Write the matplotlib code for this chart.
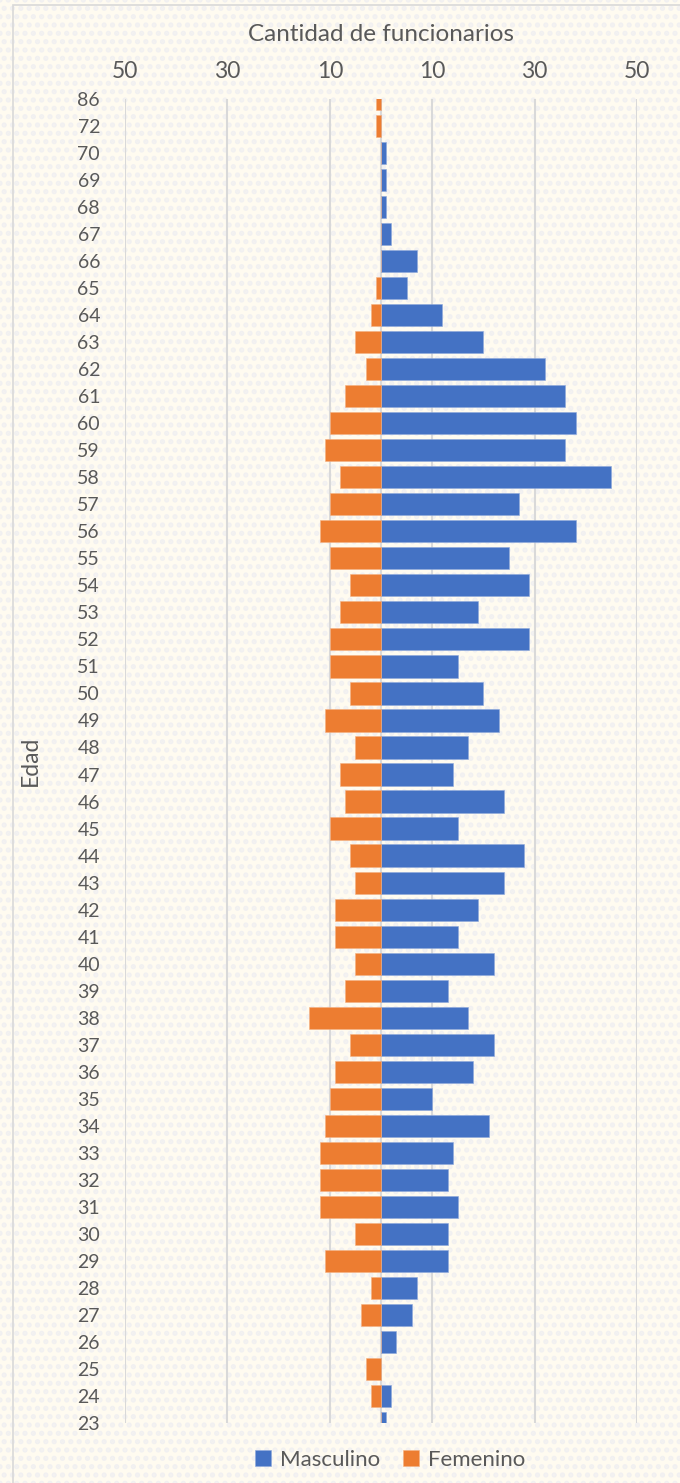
import numpy as np
import matplotlib
matplotlib.use("Agg")
import matplotlib.pyplot as plt
from matplotlib.patches import Rectangle

# edades de abajo hacia arriba
edades = ['23', '24', '25', '26', '27', '28', '29', '30', '31', '32', '33', '34',
          '35', '36', '37', '38', '39', '40', '41', '42', '43', '44', '45', '46',
          '47', '48', '49', '50', '51', '52', '53', '54', '55', '56', '57', '58',
          '59', '60', '61', '62', '63', '64', '65', '66', '67', '68', '69', '70',
          '72', '86']

masculino = [1, 2, 0, 3, 6, 7, 13, 13, 15, 13, 14, 21,
             10, 18, 22, 17, 13, 22, 15, 19, 24, 28, 15, 24,
             14, 17, 23, 20, 15, 29, 19, 29, 25, 38, 27, 45,
             36, 38, 36, 32, 20, 12, 5, 7, 2, 1, 1, 1,
             0, 0]

femenino = [0, 2, 3, 0, 4, 2, 11, 5, 12, 12, 12, 11,
            10, 9, 6, 14, 7, 5, 9, 9, 5, 6, 10, 7,
            8, 5, 11, 6, 10, 10, 8, 6, 10, 12, 10, 8,
            11, 10, 7, 3, 5, 2, 1, 0, 0, 0, 0, 0,
            1, 1]

x_ticks = [-50, -30, -10, 10, 30, 50]

azul = '#4472C4'
naranja = '#ED7D31'
gris_texto = '#595959'
gris_linea = '#D9D9D9'

plt.rcParams['font.family'] = ['Lato', 'DejaVu Sans']
plt.rcParams['hatch.linewidth'] = 2.5

fig = plt.figure(figsize=(6.8, 14.83), dpi=100)
fig.patch.set_facecolor('#FFFBF0')

# textura de fondo
fondo = Rectangle((0, 0), 1, 1, transform=fig.transFigure, facecolor='none',
                  edgecolor='#F1F0F1', hatch='..', linewidth=0, zorder=-10)
fig.patches.append(fondo)
# borde del area del grafico
borde = Rectangle((13 / 680, -0.01), 1.0, 1 - 5 / 1483 + 0.01, transform=fig.transFigure,
                  facecolor='none', edgecolor=gris_linea, linewidth=1.2, zorder=-9)
fig.patches.append(borde)

ax = fig.add_axes([125 / 680, 1 - 1423 / 1483, 512 / 680, 1324 / 1483])
ax.set_facecolor('none')

y = np.arange(len(edades))
alto = 0.82
ax.barh(y, masculino, height=alto, color=azul, edgecolor='#8FA9DC', linewidth=0.4,
        label='Masculino', zorder=3)
ax.barh(y, [-v for v in femenino], height=alto, color=naranja, edgecolor='#F4B183',
        linewidth=0.4, label='Femenino', zorder=3)

ax.set_xlim(-50, 50)
ax.set_ylim(0, len(edades) - 1)

ax.set_xticks(x_ticks)
ax.set_xticklabels([str(abs(t)) for t in x_ticks])
ax.xaxis.tick_top()
ax.xaxis.set_label_position('top')
ax.set_xlabel('Cantidad de funcionarios', fontsize=17.5, color=gris_texto, labelpad=15)

ax.set_yticks(y)
ax.set_yticklabels(edades)
ax.set_ylabel('Edad', fontsize=16.5, color=gris_texto, labelpad=26)

ax.tick_params(axis='x', length=0, pad=12, labelsize=16.5, labelcolor=gris_texto)
ax.tick_params(axis='y', length=0, pad=18, labelsize=14, labelcolor=gris_texto)

ax.grid(axis='x', color=gris_linea, linewidth=1.5, zorder=0)
ax.axvline(0, color=gris_linea, linewidth=1.5, zorder=2)
for s in ax.spines.values():
    s.set_visible(False)

leg = fig.legend(loc='center', bbox_to_anchor=(390 / 680, 1 - 1460 / 1483), ncol=2,
                 frameon=False, fontsize=16, handlelength=0.75, handleheight=0.75,
                 columnspacing=1.0, handletextpad=0.4)
for t in leg.get_texts():
    t.set_color(gris_texto)

fig.savefig('out.png', dpi=100, facecolor=fig.get_facecolor())
